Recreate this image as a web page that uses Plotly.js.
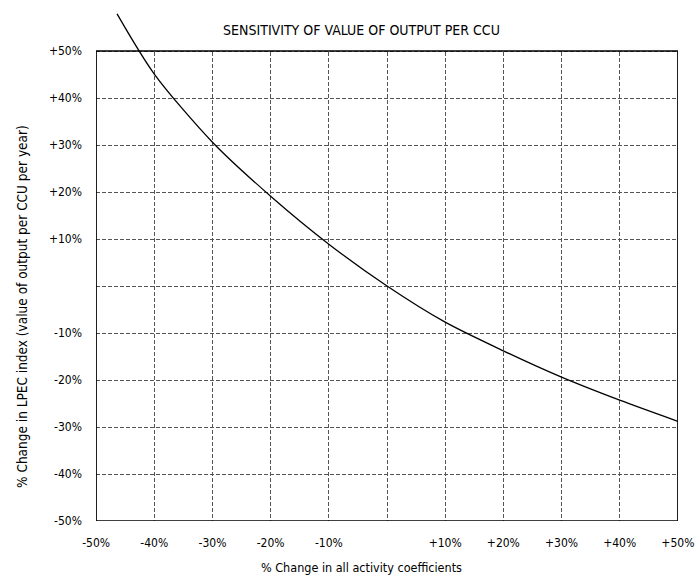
<!DOCTYPE html>
<html>
<head>
<meta charset="utf-8">
<script src="https://cdn.plot.ly/plotly-3.0.1.min.js"></script>
<style>html,body{margin:0;padding:0;background:#fff;}#chart{width:695px;height:582px;}</style>
</head>
<body>
<div id="chart"></div>
<script>
// Data
const changeInCoefficients = [-46.4, -40, -30, -20, -10, 0, 10, 20, 30, 40, 50];
const changeInLpecIndex = [57.9, 45.1, 30.6, 19.1, 8.9, 0, -7.7, -13.8, -19.4, -24.3, -28.8];
const xTickVals = [-50, -40, -30, -20, -10, 0, 10, 20, 30, 40, 50];
const xTickText = ['-50%', '-40%', '-30%', '-20%', '-10%', '', '+10%', '+20%', '+30%', '+40%', '+50%'];
const yTickVals = [-50, -40, -30, -20, -10, 0, 10, 20, 30, 40, 50];
const yTickText = ['-50%', '-40%', '-30%', '-20%', '-10%', '', '+10%', '+20%', '+30%', '+40%', '+50%'];
const chartTitle = 'SENSITIVITY OF VALUE OF OUTPUT PER CCU';
const xTitle = '% Change in all activity coefficients';
const yTitle = '% Change in LPEC index (value of output per CCU per year)';

const FONT = '"Liberation Sans Narrow", "DejaVu Sans Condensed", "Arial Narrow", sans-serif';

const PLOT_L = 96, PLOT_R = 678, PLOT_TOP = 10, PLOT_B = 521;
const PX_PER_UNIT = (PLOT_B - 51) / 100;

const trace = {
  x: changeInCoefficients,
  y: changeInLpecIndex,
  type: 'scatter',
  mode: 'lines',
  line: {color: '#000', width: 1.3, shape: 'spline', smoothing: 0.8},
  hoverinfo: 'skip',
  showlegend: false
};

const layout = {
  width: 695,
  height: 582,
  margin: {l: PLOT_L, r: 695 - PLOT_R, t: PLOT_TOP, b: 582 - PLOT_B},
  paper_bgcolor: '#fff',
  plot_bgcolor: '#fff',
  font: {family: FONT, size: 12, color: '#000'},
  title: {
    text: chartTitle,
    font: {family: FONT, size: 14, color: '#000'},
    xref: 'container', yref: 'container',
    x: 361.5 / 695, xanchor: 'center',
    y: 1 - 30.5 / 582, yanchor: 'middle'
  },
  xaxis: {
    range: [-50.02, 50.02],
    tickmode: 'array',
    tickvals: xTickVals,
    ticktext: xTickText,
    showgrid: true,
    gridcolor: '#555',
    gridwidth: 1,
    griddash: '4px,2px',
    zeroline: false,
    showline: false,
    ticks: '',
    ticklabelstandoff: 13,
    ticklabeloverflow: 'allow',
    tickfont: {family: FONT, size: 12, color: '#000'},
    fixedrange: true
  },
  yaxis: {
    range: [-50, 50 + (51 - PLOT_TOP) / PX_PER_UNIT],
    tickmode: 'array',
    tickvals: yTickVals,
    ticktext: yTickText,
    showgrid: true,
    gridcolor: '#555',
    gridwidth: 1,
    griddash: '4px,2px',
    zeroline: false,
    showline: false,
    ticks: '',
    ticklabelstandoff: 13,
    ticklabeloverflow: 'allow',
    tickfont: {family: FONT, size: 12, color: '#000'},
    fixedrange: true
  },
  shapes: [
    {type: 'rect', xref: 'x', yref: 'y', x0: -50.5, x1: 50.5, y0: 50, y1: 60,
     fillcolor: '#fff', line: {width: 0}, layer: 'between'},
    {type: 'rect', xref: 'x', yref: 'y', x0: -50, x1: 50, y0: -50, y1: 50,
     fillcolor: 'rgba(0,0,0,0)', line: {color: '#000', width: 1.5}, layer: 'between'}
  ],
  annotations: [
    {text: xTitle, xref: 'paper', yref: 'paper',
     x: (361 - PLOT_L) / (PLOT_R - PLOT_L), y: -(567 - PLOT_B) / (PLOT_B - PLOT_TOP),
     xanchor: 'center', yanchor: 'middle', showarrow: false,
     font: {family: FONT, size: 12.5, color: '#000'}},
    {text: yTitle, xref: 'paper', yref: 'paper',
     x: (22 - PLOT_L) / (PLOT_R - PLOT_L), y: (PLOT_B - 307) / (PLOT_B - PLOT_TOP),
     xanchor: 'center', yanchor: 'middle', textangle: -90, showarrow: false,
     font: {family: FONT, size: 13.5, color: '#000'}}
  ]
};

Plotly.newPlot('chart', [trace], layout, {staticPlot: true, displayModeBar: false});
</script>
</body>
</html>
